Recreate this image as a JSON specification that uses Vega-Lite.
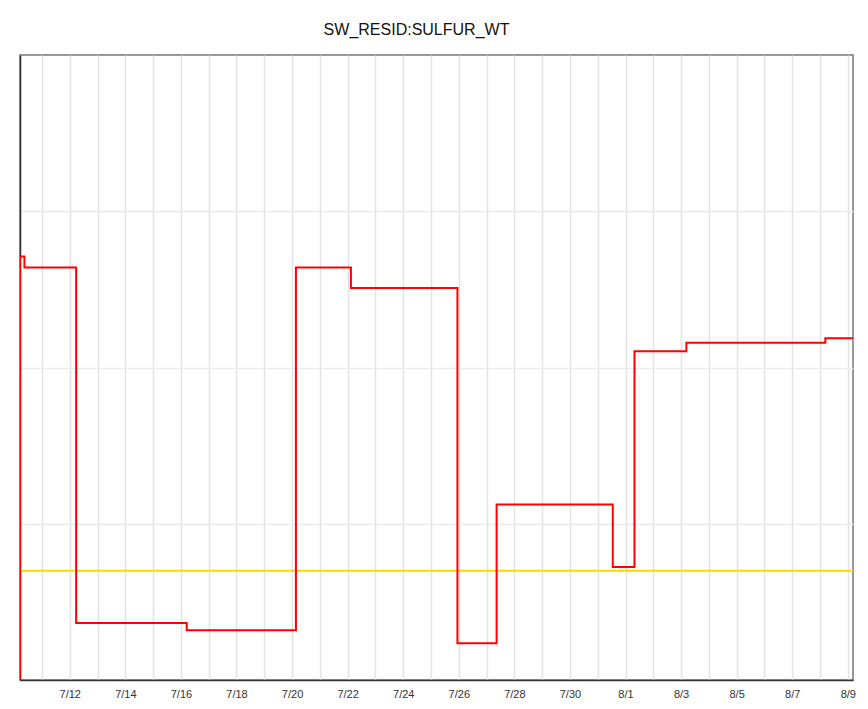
{
  "$schema": "https://vega.github.io/schema/vega-lite/v6.json",
  "width": 833,
  "height": 625,
  "autosize": "none",
  "padding": {"left": 20, "top": 55, "right": 15, "bottom": 29},
  "background": "white",
  "title": {
    "text": "SW_RESID:SULFUR_WT",
    "fontSize": 16,
    "font": "Liberation Sans",
    "fontWeight": "normal",
    "color": "#111",
    "anchor": "middle",
    "dx": -20,
    "offset": 17
  },
  "config": {
    "view": {"stroke": "#777", "strokeWidth": 1.5},
    "axis": {"labelFont": "Liberation Sans", "labelFontSize": 11, "labelColor": "#333", "gridColor": "#e3e3e3", "gridWidth": 1.5, "ticks": false}
  },
  "datasets": {
    "sulfur": [
      {"time": "2023-07-10T05:00:00", "value": 0},
      {"time": "2023-07-10T05:00:00", "value": 2.71},
      {"time": "2023-07-10T08:50:00", "value": 2.64},
      {"time": "2023-07-12T05:30:00", "value": 0.365},
      {"time": "2023-07-16T05:00:00", "value": 0.318},
      {"time": "2023-07-20T03:20:00", "value": 2.64},
      {"time": "2023-07-22T02:50:00", "value": 2.509},
      {"time": "2023-07-25T22:50:00", "value": 0.235},
      {"time": "2023-07-27T08:40:00", "value": 1.124},
      {"time": "2023-07-31T13:00:00", "value": 0.723},
      {"time": "2023-08-01T07:45:00", "value": 2.104},
      {"time": "2023-08-03T04:35:00", "value": 2.159},
      {"time": "2023-08-08T04:35:00", "value": 2.187},
      {"time": "2023-08-09T04:30:00", "value": 2.187}
    ],
    "limit": [
      {"time": "2023-07-10T05:00:00", "value": 0.7},
      {"time": "2023-08-09T04:30:00", "value": 0.7}
    ]
  },
  "layer": [
    {
      "data": {"name": "limit"},
      "mark": {"type": "line", "color": "#FFD700", "strokeWidth": 2, "clip": true},
      "encoding": {
        "x": {
          "field": "time", "type": "temporal",
          "scale": {"domain": ["2023-07-10T05:00:00", "2023-08-09T04:30:00"]},
          "axis": {
            "title": null,
            "grid": true,
            "domainColor": "#333",
            "domainWidth": 1.5,
            "tickCount": {"interval": "day", "step": 1},
            "labelPadding": 8,
            "labelFlush": false,
            "labelOverlap": false,
            "labelExpr": "round((datum.value - datetime(2023, 6, 12)) / 86400000) % 2 == 0 ? timeFormat(datum.value, '%-m/%-d') : ''"
          }
        },
        "y": {
          "field": "value", "type": "quantitative",
          "scale": {"domain": [0, 4], "nice": false},
          "axis": {"title": null, "labels": false, "values": [1, 2, 3], "grid": true, "gridColor": "#ececec", "domainColor": "#333", "domainWidth": 1.5}
        }
      }
    },
    {
      "data": {"name": "sulfur"},
      "mark": {"type": "line", "color": "#ff0000", "strokeWidth": 2, "interpolate": "step-after", "clip": true},
      "encoding": {
        "x": {"field": "time", "type": "temporal"},
        "y": {"field": "value", "type": "quantitative"}
      }
    }
  ]
}
